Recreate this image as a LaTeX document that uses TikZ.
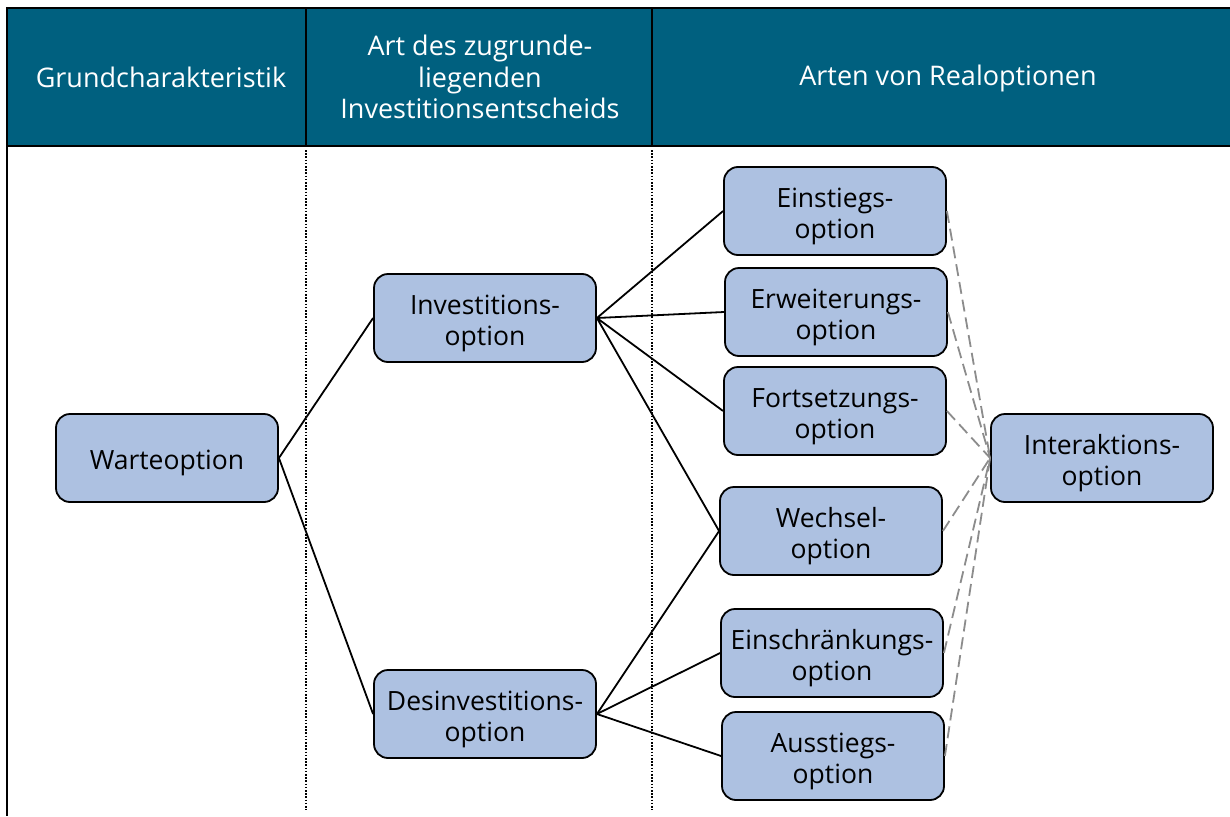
\documentclass[tikz,border=0pt]{standalone}
\usepackage{fontspec}
\setmainfont{Open Sans}
\definecolor{headblue}{HTML}{00607F}
\definecolor{optfill}{HTML}{ADC1E1}
\definecolor{dashgray}{HTML}{8C8C8C}
\begin{document}
\begin{tikzpicture}[x=1pt,y=-1pt,
  opt/.style={draw=black, line width=1.8pt, fill=optfill, rounded corners=14pt,
    minimum width=222pt, minimum height=88pt, align=center, inner sep=2pt,
    text height=30pt, font=\fontsize{26.5}{31}\selectfont},
  opttwo/.style={opt, text height=61pt},
  hd/.style={text=white, align=center, font=\fontsize{27}{31.5}\selectfont},
  link/.style={line width=1.8pt},
  inter/.style={draw=dashgray, line width=1.8pt, dash pattern=on 12pt off 6pt},
  divider/.style={line width=1.6pt, dash pattern=on 1.6pt off 1.6pt}]
\useasboundingbox (0,0) rectangle (1230,816);

% header band and frame
\fill[headblue] (7,8) rectangle (1230,146);
\draw[line width=2.2pt] (1230,8) -- (7,8) -- (7,816);
\draw[line width=2.2pt] (7,146) -- (1230,146);
\draw[line width=2pt] (306,8) -- (306,146);
\draw[line width=2pt] (652,8) -- (652,146);
\draw[divider] (306,150) -- (306,810);
\draw[divider] (652,150) -- (652,810);

\node[hd] (h1) at (161,77) {Grundcharakteristik};
\node[hd] (h2) at (480,77) {Art des zugrunde-\\liegenden\\Investitionsentscheids};
\node[hd] (h3) at (948,78) {Arten von Realoptionen};

% option boxes
\node[opt] (warte) at (167,458) {Warteoption};
\node[opttwo] (inv) at (485,318) {Investitions-\\option};
\node[opttwo] (desinv) at (485,714) {Desinvestitions-\\option};
\node[opttwo] (einst) at (835,211) {Einstiegs-\\option};
\node[opttwo] (erw) at (836,312) {Erweiterungs-\\option};
\node[opttwo] (forts) at (835,411) {Fortsetzungs-\\option};
\node[opttwo] (wech) at (831,531) {Wechsel-\\option};
\node[opttwo] (einschr) at (832,653) {Einschränkungs-\\option};
\node[opttwo] (ausst) at (833,756) {Ausstiegs-\\option};
\node[opttwo] (inter) at (1102,458) {Interaktions-\\option};

% tree connectors
\draw[link] (warte.east) -- (inv.west);
\draw[link] (warte.east) -- (desinv.west);
\draw[link] (inv.east) -- (einst.west);
\draw[link] (inv.east) -- (erw.west);
\draw[link] (inv.east) -- (forts.west);
\draw[link] (inv.east) -- (wech.west);
\draw[link] (desinv.east) -- (wech.west);
\draw[link] (desinv.east) -- (einschr.west);
\draw[link] (desinv.east) -- (ausst.west);

% interaction links
\foreach \n in {einst,erw,forts,wech,einschr,ausst}
  \draw[inter] (\n.east) -- (inter.west);
\end{tikzpicture}
\end{document}
